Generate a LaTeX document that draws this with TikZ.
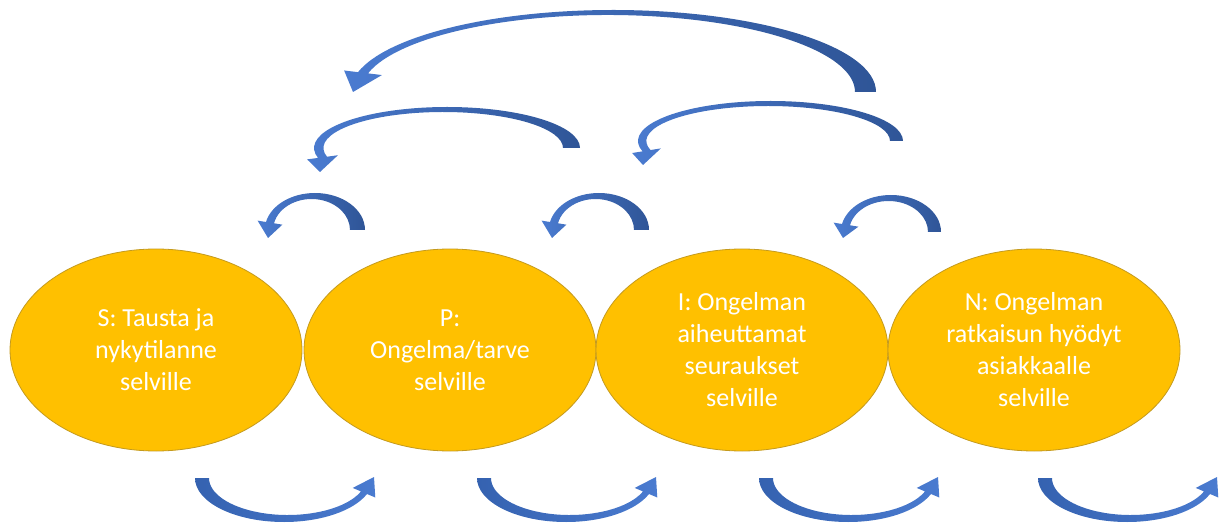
\documentclass[tikz,border=0pt]{standalone}
\usepackage{fontspec}
\setmainfont{Carlito}
\usetikzlibrary{calc,shapes.geometric}
\definecolor{gold}{HTML}{FFC000}
\definecolor{goldline}{HTML}{C49A1E}
\definecolor{blueL}{HTML}{4A7BD0}
\definecolor{blueD}{HTML}{2F5597}
\definecolor{blueM}{HTML}{3562B0}
\begin{document}
\begin{tikzpicture}[x=1pt,y=1pt,
  stage/.style={ellipse,draw=goldline,line width=0.8pt,fill=gold,
    minimum width=292pt,minimum height=202pt,inner sep=0pt,
    text=white,align=center,font=\fontsize{26}{32}\selectfont}]
\useasboundingbox (0,0) rectangle (1230,525);
\node[stage] (s) at (156,175) {S: Tausta ja\\nykytilanne\\selville};
\node[stage] (p) at (450,175) {P:\\Ongelma/tarve\\selville};
\node[stage] (i) at (742,175) {I: Ongelman\\aiheuttamat\\seuraukset\\selville};
\node[stage] (n) at (1034,175) {N: Ongelman\\ratkaisun hyödyt\\asiakkaalle\\selville};
\foreach \ts/\te/\cy/\xto/\xti/\xeo/\xei/\bo/\bi/\hw/\tx/\ty/\cl/\cr in {
  0/166/433/876/855/358/368/82/77/14/353/433/blueL/blueD,
  0/194/377/580/563/318/327/41/36/11/320/353/blueL/blueD,
  0/195/384/903/890/642.5/650.5/40/35/10.5/643/360/blueL/blueD,
  0/167.5/295/365/350/266/274/37/31/8.5/268/287/blueL/blueD,
  0/167.5/295/649/634/550/558/37/31/8.5/552/287/blueL/blueD,
  0/167.5/293/941/928/842/850/37/31/8.5/843/287/blueL/blueD,
  180/338.7/47/195/209/367/361/44/37/9/374/48/blueM/blueL,
  180/338.7/47/477/491/649/643/44/37/9/656/48/blueM/blueL,
  180/338.7/47/759/773/931/925/44/37/9/938/48/blueM/blueL,
  180/338.7/47/1038/1052/1210/1204/44/37/9/1217/48/blueM/blueL}{
  \pgfmathsetmacro\ao{(\xto-\xeo)/(cos(\ts)-cos(\te))}
  \pgfmathsetmacro\cxo{\xto-\ao*cos(\ts)}
  \pgfmathsetmacro\ai{(\xti-\xei)/(cos(\ts)-cos(\te))}
  \pgfmathsetmacro\cxi{\xti-\ai*cos(\ts)}
  \coordinate (Po) at ($(\cxo,\cy)+(\te:\ao pt and \bo pt)$);
  \coordinate (Pi) at ($(\cxi,\cy)+(\te:\ai pt and \bi pt)$);
  \coordinate (Bo) at ($(Po)!-\hw pt!(Pi)$);
  \coordinate (Bi) at ($(Pi)!-\hw pt!(Po)$);
  \coordinate (T) at (\tx,\ty);
  \coordinate (S) at (\xto,\cy);
  \path[left color=\cl,right color=\cr]
    (S) arc[start angle=\ts,end angle=\te,x radius=\ao pt,y radius=\bo pt]
    -- (Bo) -- (T) -- (Bi) -- (Pi)
    arc[start angle=\te,end angle=\ts,x radius=\ai pt,y radius=\bi pt]
    -- cycle;
}
\end{tikzpicture}
\end{document}
